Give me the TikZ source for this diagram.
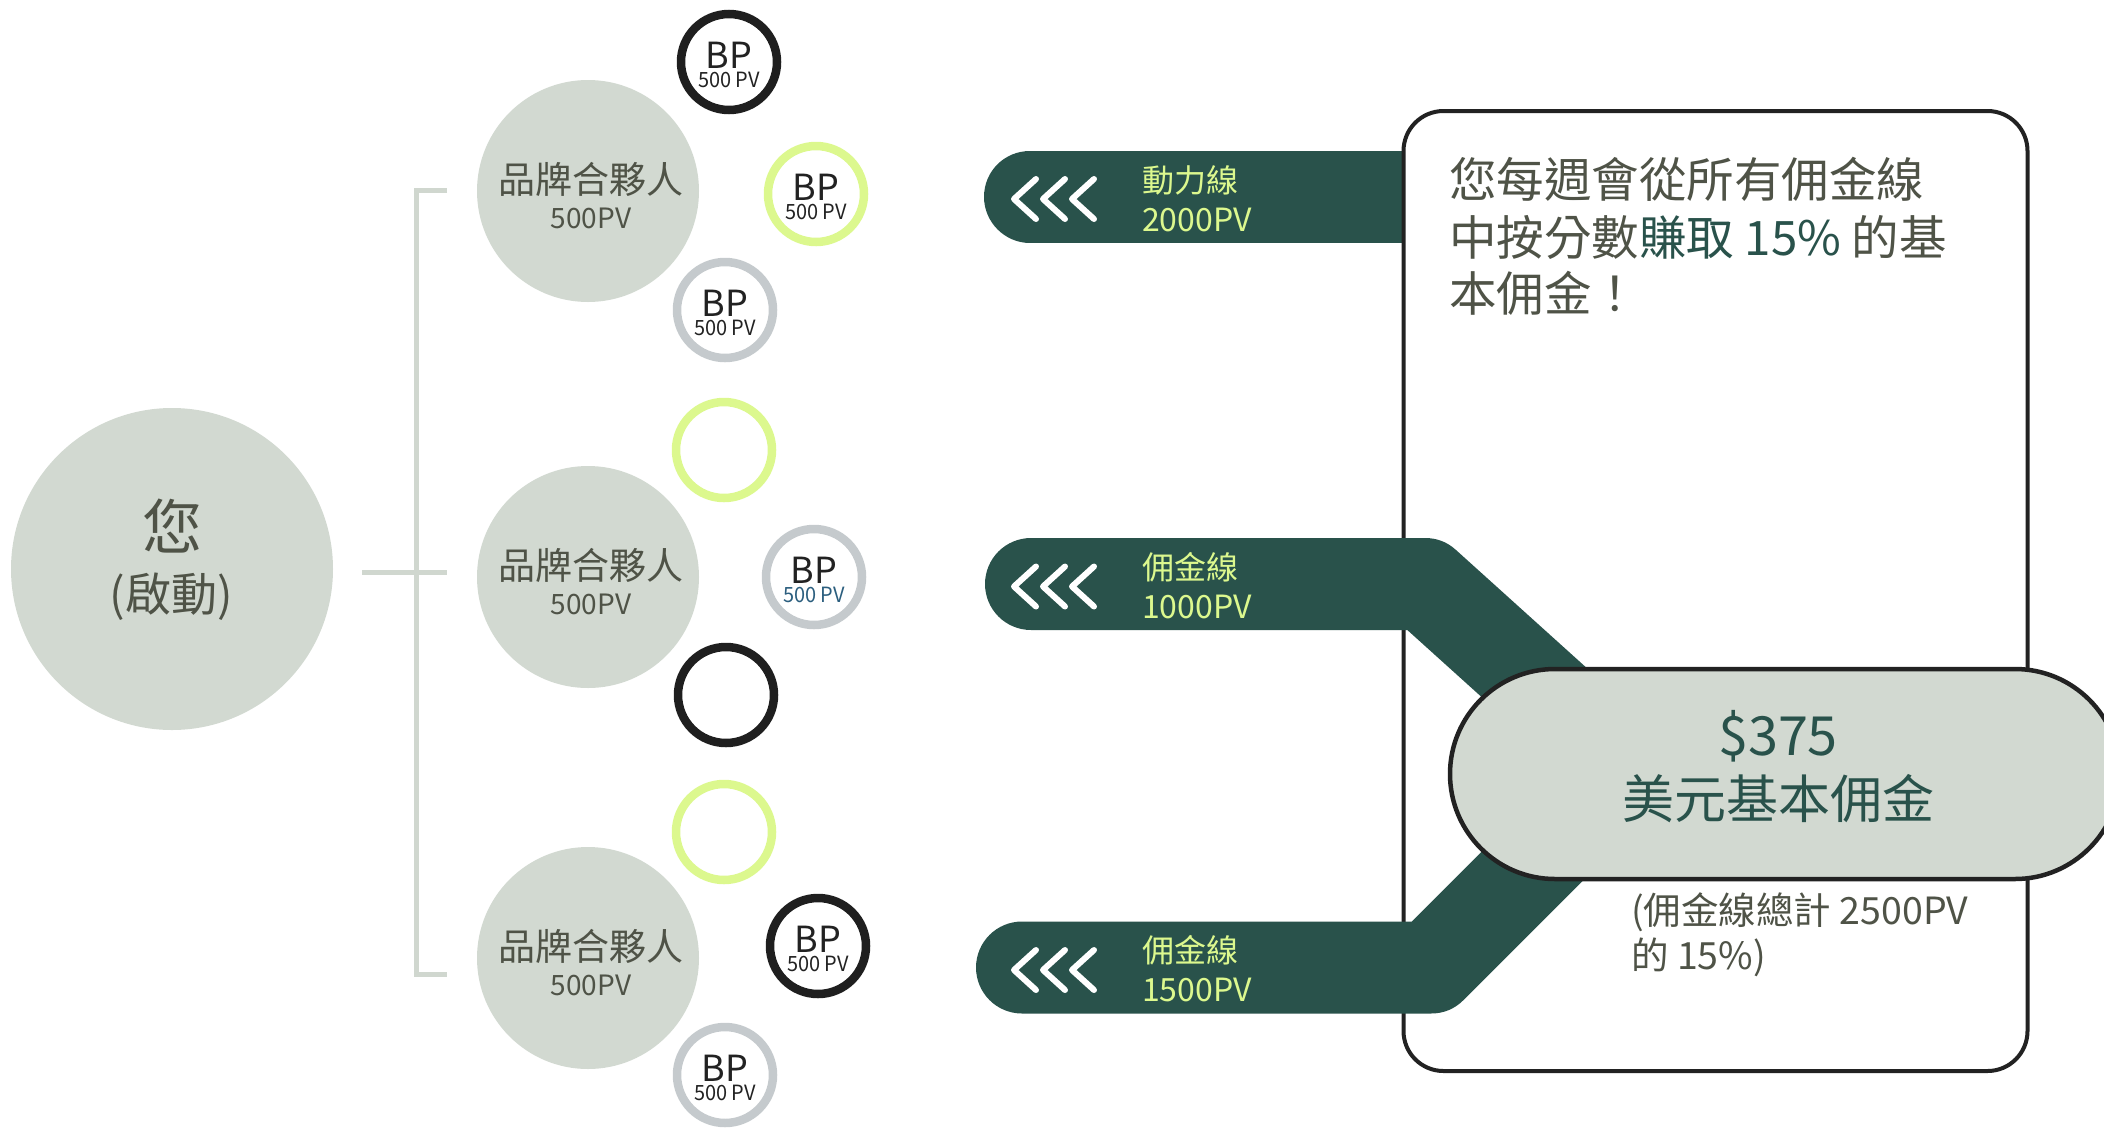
\documentclass[tikz,border=0pt]{standalone}
\usepackage{fontspec}
\usepackage{graphicx}
\setmainfont{Noto Sans CJK TC}
\definecolor{softgray}{HTML}{D2D9D1}
\definecolor{treegray}{HTML}{D0D7CF}
\definecolor{txtgray}{HTML}{4F5347}
\definecolor{bandgreen}{HTML}{29524B}
\definecolor{limec}{HTML}{DCF88E}
\definecolor{ringgray}{HTML}{C5CACD}
\definecolor{ringblack}{HTML}{1F1F1F}
\definecolor{bpblue}{HTML}{2B5E7E}
\definecolor{bordc}{HTML}{222222}
\definecolor{bptext}{HTML}{222222}
\newcommand{\myfs}[1]{\fontsize{#1}{#1}\selectfont}
\newcommand{\bpcircle}[6]{%
  \node[bpring, draw=#4] (#1) at (#2,#3) {};
  \ifx\relax#5\relax\else
  \node[anchor=base, text=bptext, inner sep=0] (#1a) at (#2,#3+6) {\myfs{36}BP};
  \node[anchor=base, text=#6, inner sep=0] (#1b) at (#2,#3+25) {\scalebox{0.95}[1]{\myfs{21}500 PV}};
  \fi}
\begin{document}
\begin{tikzpicture}[x=1pt,y=-1pt,
  softcircle/.style={circle, fill=softgray, draw=none, inner sep=0},
  bpring/.style={circle, minimum size=96pt, line width=8.5pt, inner sep=0, fill=white},
  band/.style={line width=92pt, draw=bandgreen, line cap=round, line join=round},
  chev/.style={draw=white, line width=6pt, line cap=round, line join=round},
  treeline/.style={draw=treegray, line width=5pt},
  bandtxt/.style={anchor=base west, text=limec, inner sep=0, font=\myfs{32}},
  graytxt/.style={text=txtgray, inner sep=0},
  greentxt/.style={text=bandgreen, inner sep=0}]
\useasboundingbox (0,0) rectangle (2104,1128);

% you circle
\node[softcircle, minimum size=322pt] (you) at (172,569) {};
\node[graytxt, anchor=base] (youa) at (172,549) {\myfs{60}您};
\node[graytxt, anchor=base] (youb) at (171,611) {\myfs{46}(啟動)};

% tree lines
\coordinate (tin) at (362,572);
\coordinate (tmid) at (447,572);
\coordinate (ttop) at (447,190);
\coordinate (tbot) at (447,974);
\draw[treeline] (tin) -- (tmid);
\draw[treeline] (ttop) -- (416,190) -- (416,974) -- (tbot);

% brand partner circles
\foreach \n/\cy in {1/191,2/577,3/958}{
  \node[softcircle, minimum size=222pt] (brand\n) at (588,\cy) {};
  \node[graytxt, anchor=base] (brand\n a) at (591,\cy+2) {\myfs{37}品牌合夥人};
  \node[graytxt, anchor=base] (brand\n b) at (591,\cy+37) {\myfs{28}500PV};
}

% BP circles
\bpcircle{c1}{729}{62}{ringblack}{x}{bptext}
\bpcircle{c2}{816}{194}{limec}{x}{bptext}
\bpcircle{c3}{725}{310}{ringgray}{x}{bptext}
\bpcircle{c4}{724}{450}{limec}{}{bptext}
\bpcircle{c5}{814}{577}{ringgray}{x}{bpblue}
\bpcircle{c6}{726}{695}{ringblack}{}{bptext}
\bpcircle{c7}{724}{832}{limec}{}{bptext}
\bpcircle{c8}{818}{946}{ringblack}{x}{bptext}
\bpcircle{c9}{725}{1075}{ringgray}{x}{bptext}

% top band (under box)
\coordinate (b1s) at (1030,196.5);
\coordinate (b1e) at (1420,196.5);
\draw[band] (b1s) -- (b1e);

% right box
\node[draw=bordc, line width=4pt, fill=white, rounded corners=40pt,
      minimum width=624pt, minimum height=960pt, inner sep=0] (box) at (1715.5,591) {};

% middle and bottom bands
\coordinate (b2s) at (1031,584);
\coordinate (b2k) at (1425,584);
\coordinate (b2e) at (1640,778);
\draw[band] (b2s) -- (b2k) -- (b2e);
\coordinate (b3s) at (1022,967.5);
\coordinate (b3k) at (1431,967.5);
\coordinate (b3e) at (1620,778.5);
\draw[band] (b3s) -- (b3k) -- (b3e);

% chevrons
\foreach \yc in {196.5,584,967.5}{
  \foreach \dx in {0,29,58}{
    \draw[chev] (1036+\dx,\yc-17.5) -- (1014+\dx,\yc+2.5) -- (1036+\dx,\yc+22.5);
  }
}

% band labels
\node[bandtxt] (l1a) at (1142,192.5) {動力線};
\node[bandtxt] (l1b) at (1142,231.5) {2000PV};
\node[bandtxt] (l2a) at (1142,579) {佣金線};
\node[bandtxt] (l2b) at (1142,618) {1000PV};
\node[bandtxt] (l3a) at (1142,962.5) {佣金線};
\node[bandtxt] (l3b) at (1142,1001.5) {1500PV};

% pill
\node[draw=bordc, line width=4.5pt, fill=softgray, rounded corners=105pt,
      minimum width=670pt, minimum height=210pt, inner sep=0] (pill) at (1785,774) {};
\node[greentxt, anchor=base] (pilla) at (1778,755) {\myfs{54}\$375};
\node[greentxt, anchor=base] (pillb) at (1778,818) {\myfs{52}美元基本佣金};

% box text
\node[graytxt, anchor=base west] (bt1) at (1449,197) {\myfs{47.5}您每週會從所有佣金線};
\node[graytxt, anchor=base west] (bt2) at (1449,255) {\myfs{47.5}中按分數\textcolor{bandgreen}{賺取 15\%} 的基};
\node[graytxt, anchor=base west] (bt3) at (1449,311) {\myfs{47.5}本佣金！};

% annotation
\node[graytxt, anchor=base west] (an1) at (1631,924) {\myfs{37.5}(佣金線總計 2500PV};
\node[graytxt, anchor=base west] (an2) at (1631,969) {\myfs{37.5}的 15\%)};
\end{tikzpicture}
\end{document}
